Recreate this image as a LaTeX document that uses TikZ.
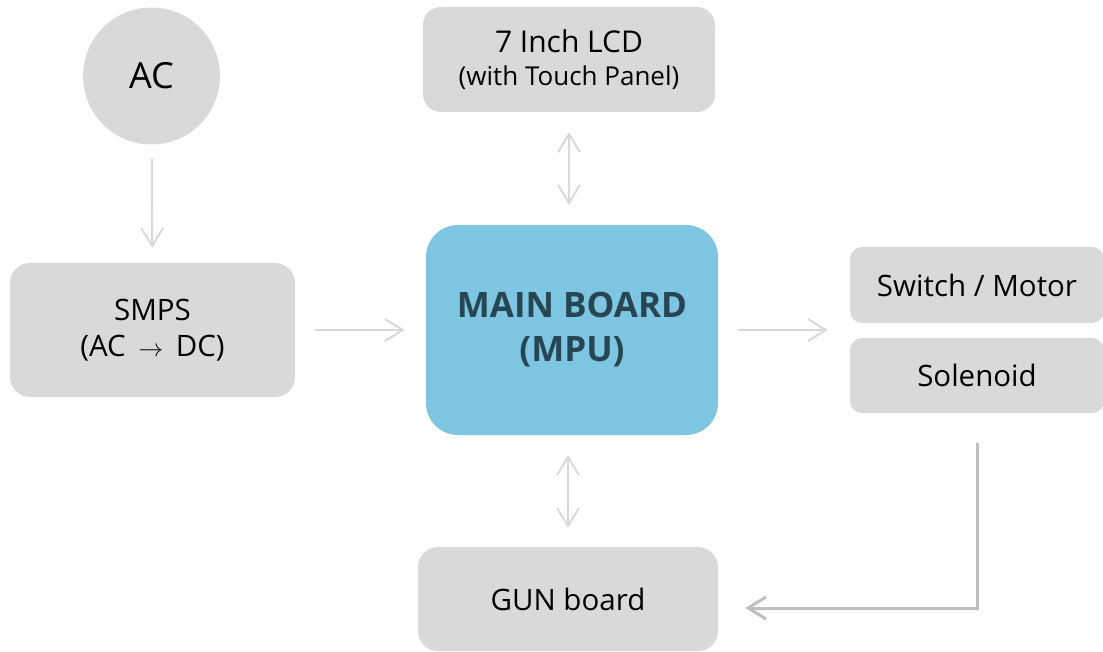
\documentclass[tikz,border=0pt]{standalone}
\usepackage{fontspec}
\setmainfont{Open Sans}
\usetikzlibrary{arrows.meta}
\usetikzlibrary{calc}
\definecolor{boxgray}{HTML}{D9D9D9}
\definecolor{linkgray}{HTML}{D9D9D9}
\definecolor{pathgray}{HTML}{BFBFBF}
\definecolor{mainblue}{HTML}{7DC5E1}
\definecolor{maintext}{HTML}{264653}

\begin{document}
\begin{tikzpicture}[x=1pt, y=-1pt]
            \tikzset{box/.style={fill=boxgray, rounded corners=18pt, inner sep=0pt, align=center, font=\fontsize{29.5}{36}\selectfont}}
            \tikzset{link/.style={linkgray, line width=2pt, {Straight Barb[length=18pt, width=22pt]}-{Straight Barb[length=18pt, width=22pt]}}}
            \tikzset{onelink/.style={linkgray, line width=2pt, -{Straight Barb[length=18pt, width=22pt]}}}
            \useasboundingbox (0, 0) rectangle (1103, 652);
            \node[circle, fill=boxgray, minimum size=137pt, inner sep=0pt, font=\fontsize{36}{40}\selectfont] (ac) at (151.5, 76) {AC};
            \node[box, rounded corners=20pt, minimum width=285pt, minimum height=134pt] (smps) at (152.5, 330) {SMPS\\(AC \,$\rightarrow$\, DC)};
            \node[box, fill=mainblue, text=maintext, rounded corners=32pt, minimum width=292pt, minimum height=210pt, font=\fontsize{35}{44}\selectfont\bfseries] (main) at (572, 330) {MAIN BOARD\\(MPU)};
            \node[box, minimum width=292pt, minimum height=105pt, font=\fontsize{26}{33}\selectfont] (lcd) at (569, 59.5) {{\fontsize{30}{33}\selectfont 7 Inch LCD}\\(with Touch Panel)};
            \node[box, rounded corners=12pt, minimum width=254pt, minimum height=76pt] (sw) at (977, 285) {Switch / Motor};
            \node[box, rounded corners=12pt, minimum width=254pt, minimum height=75pt] (sol) at (977, 375.5) {Solenoid};
            \node[box, rounded corners=20pt, minimum width=300pt, minimum height=104pt] (gun) at (568, 599) {GUN board};
            \draw[onelink, shorten <=14pt, shorten >=15pt] (ac) -- (smps);
            \draw[onelink, shorten <=20pt, shorten >=21pt] (smps) -- (main);
            \draw[link, shorten <=20pt, shorten >=20pt] (lcd.south) -- (lcd.south |- main.north);
            \draw[onelink, shorten <=20pt, shorten >=22pt] (main.east) -- (main.east -| sw.west);
            \draw[link, shorten <=20pt, shorten >=19pt] (gun.north |- main.south) -- (gun.north);
            \draw[onelink, pathgray, line width=3pt, shorten <=30pt, shorten >=27pt] (sol.south) |- ($(gun.east) + (0, 9)$);
\end{tikzpicture}
\end{document}
